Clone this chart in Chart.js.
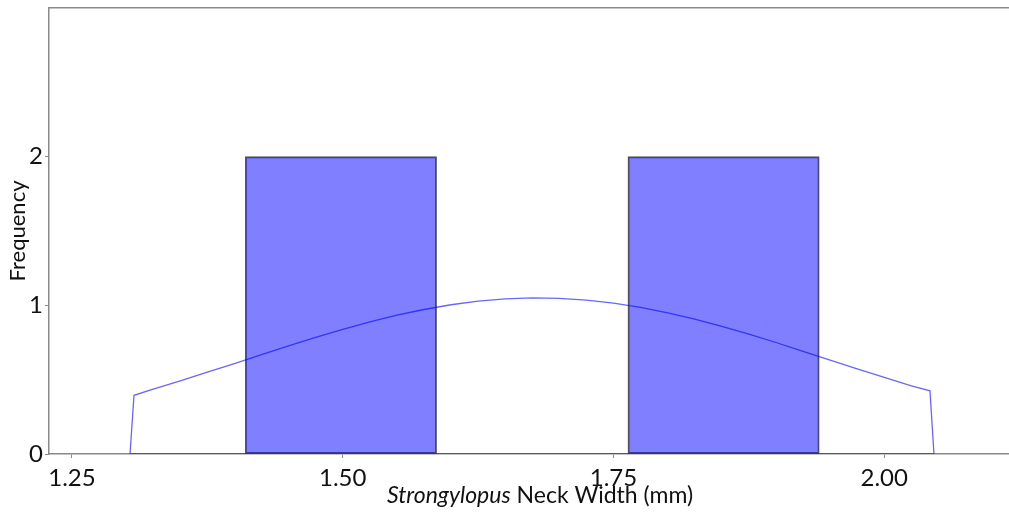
<!DOCTYPE html>
<html>
<head>
<meta charset="utf-8">
<script src="https://cdn.jsdelivr.net/npm/chart.js@4.4.1/dist/chart.umd.min.js"></script>
<style>
  html, body { margin: 0; padding: 0; background: #fff; overflow: hidden; }
  #wrap { width: 1031px; height: 514px; }
</style>
</head>
<body>
<div id="wrap"><canvas id="c"></canvas></div>
<script>
// histogram bins (edges + counts)
const BIN_EDGES = [1.41, 1.5867, 1.7633, 1.94];
const BIN_COUNTS = [2, 0, 2];

// density curve (closed polygon, scaled to counts)
const KDE_X = [1.3036, 1.3073, 1.325, 1.35, 1.375, 1.40, 1.425, 1.45, 1.475, 1.50, 1.525, 1.55, 1.575, 1.60, 1.625,
  1.65, 1.675, 1.70, 1.725, 1.75, 1.775, 1.80, 1.825, 1.85, 1.875, 1.90, 1.925, 1.95, 1.975, 2.00, 2.025, 2.0422, 2.0459, 1.3036];
const KDE_Y = [0, 0.395, 0.437, 0.492, 0.550, 0.608, 0.668, 0.727, 0.784, 0.838, 0.888, 0.934, 0.972, 1.004, 1.028,
  1.043, 1.050, 1.047, 1.035, 1.015, 0.986, 0.950, 0.907, 0.859, 0.806, 0.750, 0.691, 0.632, 0.573, 0.515, 0.459, 0.425, 0, 0];

const X_TICKS = [1.25, 1.50, 1.75, 2.00];
const Y_TICKS = [0, 1, 2];
const X_RANGE = [1.2288, 2.1355];
const Y_RANGE = [0, 3];

const X_TITLE_ITALIC = "Strongylopus";
const X_TITLE_REST = " Neck Width (mm)";
const Y_TITLE = "Frequency";

const FONT = "Lato";
const AXIS_COLOR = "#8a8a8a";
const TEXT_COLOR = "#111";

const bars = BIN_COUNTS.map((c, i) => ({ x: (BIN_EDGES[i] + BIN_EDGES[i + 1]) / 2, y: c }));
const kde = KDE_X.map((x, i) => ({ x, y: KDE_Y[i] }));

// x title with an italic genus name, centred under the plot area
const xTitlePlugin = {
  id: "xTitle",
  afterDraw(chart) {
    const { ctx, chartArea } = chart;
    ctx.save();
    ctx.fillStyle = TEXT_COLOR;
    ctx.textBaseline = "alphabetic";
    const fi = `italic 23px ${FONT}`;
    const fn = `23px ${FONT}`;
    ctx.font = fi;
    const w1 = ctx.measureText(X_TITLE_ITALIC).width;
    ctx.font = fn;
    const w2 = ctx.measureText(X_TITLE_REST).width;
    const cx = (chartArea.left + chartArea.right) / 2;
    let x = cx - (w1 + w2) / 2;
    const y = chartArea.bottom + 49;
    ctx.font = fi;
    ctx.fillText(X_TITLE_ITALIC, x, y);
    ctx.font = fn;
    ctx.fillText(X_TITLE_REST, x + w1, y);
    ctx.restore();
  },
};

new Chart(document.getElementById("c"), {
  type: "bar",
  data: {
    datasets: [
      {
        type: "scatter",
        data: kde,
        showLine: true,
        borderColor: "rgba(0,0,255,0.6)",
        borderWidth: 1.3,
        pointRadius: 0,
        tension: 0,
        fill: false,
        order: 0,
      },
      {
        type: "bar",
        data: bars,
        backgroundColor: "rgba(0,0,255,0.5)",
        borderColor: "rgba(0,0,0,0.65)",
        borderWidth: 1.2,
        borderSkipped: false,
        barPercentage: 1,
        categoryPercentage: 1,
        order: 1,
      },
    ],
  },
  options: {
    responsive: true,
    maintainAspectRatio: false,
    animation: false,
    events: [],
    layout: { padding: 0 },
    plugins: { legend: { display: false }, tooltip: { enabled: false } },
    scales: {
      x: {
        type: "linear",
        min: X_RANGE[0],
        max: X_RANGE[1],
        offset: false,
        afterBuildTicks: (s) => { s.ticks = X_TICKS.map((v) => ({ value: v })); },
        afterFit: (s) => { s.height = 60; s.paddingLeft = 0; s.paddingRight = 0; },
        ticks: {
          color: TEXT_COLOR,
          font: { family: FONT, size: 24 },
          padding: 6,
          maxRotation: 0,
          callback: (v) => Number(v).toFixed(2),
        },
        grid: { display: true, offset: false, drawOnChartArea: false, drawTicks: true, tickLength: 4, color: AXIS_COLOR },
        border: { display: true, color: AXIS_COLOR, width: 1.5 },
      },
      xTop: {
        type: "linear",
        position: "top",
        min: X_RANGE[0],
        max: X_RANGE[1],
        ticks: { display: false },
        grid: { display: false, drawTicks: false },
        border: { display: true, color: AXIS_COLOR, width: 1.5 },
        afterFit: (s) => { s.height = 8; s.paddingLeft = 0; s.paddingRight = 0; },
      },
      y: {
        min: Y_RANGE[0],
        max: Y_RANGE[1],
        afterBuildTicks: (s) => { s.ticks = Y_TICKS.map((v) => ({ value: v })); },
        afterFit: (s) => { s.width = 49; s.paddingTop = 0; s.paddingBottom = 0; },
        ticks: {
          color: TEXT_COLOR,
          font: { family: FONT, size: 24 },
          padding: 2,
        },
        title: {
          display: true,
          text: Y_TITLE,
          color: TEXT_COLOR,
          font: { family: FONT, size: 22 },
          padding: { top: 5, bottom: 0 },
        },
        grid: { display: true, drawOnChartArea: false, drawTicks: true, tickLength: 4, color: AXIS_COLOR },
        border: { display: true, color: AXIS_COLOR, width: 1.5 },
      },
    },
  },
  plugins: [xTitlePlugin],
});
</script>
</body>
</html>
